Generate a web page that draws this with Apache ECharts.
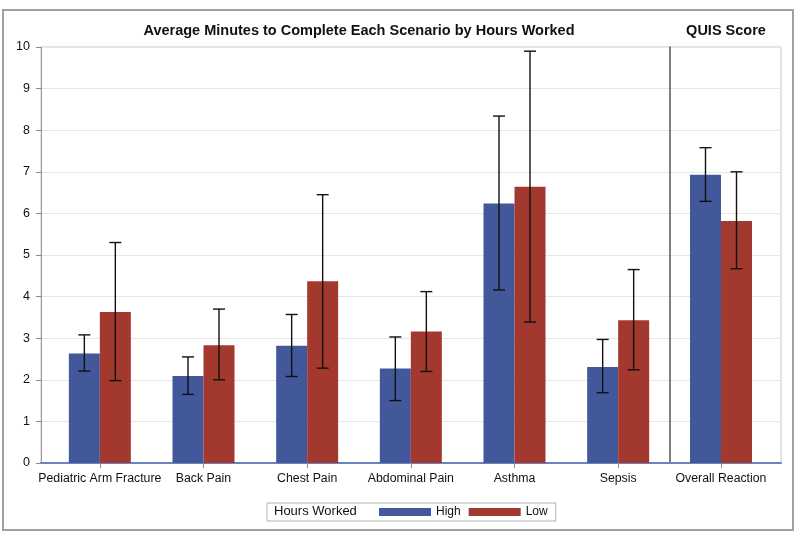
<!DOCTYPE html>
<html>
<head>
<meta charset="utf-8">
<script src="https://cdn.jsdelivr.net/npm/echarts@6/dist/echarts.min.js"></script>
<style>html,body{margin:0;padding:0;background:#fff}#c{width:800px;height:537px}</style>
</head>
<body>
<div id="c"></div>
<script>
// ---- data ----
const categories = ['Pediatric Arm Fracture','Back Pain','Chest Pain','Abdominal Pain','Asthma','Sepsis'];
const highMean  = [2.63, 2.09, 2.82, 2.27, 6.24, 2.31];
const highLower = [2.21, 1.65, 2.08, 1.50, 4.16, 1.69];
const highUpper = [3.08, 2.55, 3.57, 3.03, 8.34, 2.97];
const lowMean   = [3.63, 2.83, 4.37, 3.16, 6.64, 3.43];
const lowLower  = [1.98, 2.00, 2.28, 2.20, 3.39, 2.24];
const lowUpper  = [5.30, 3.70, 6.45, 4.12, 9.90, 4.65];

const quisCategories = ['Overall Reaction'];
const quisHighMean  = [6.93];
const quisHighLower = [6.29];
const quisHighUpper = [7.58];
const quisLowMean   = [5.82];
const quisLowLower  = [4.67];
const quisLowUpper  = [7.00];

const yTicks = [0,1,2,3,4,5,6,7,8,9,10];

const BLUE = '#43589a';
const RED = '#a3392e';
const BAR_W = 31;
const FONT = '"Liberation Sans", Arial, sans-serif';

function errData(lower, upper){ return lower.map((l,i)=>[i,l,upper[i]]); }
function errSeries(name, lower, upper, axisIdx, side){
  return {
    type:'custom', name: name, xAxisIndex: axisIdx, yAxisIndex: axisIdx, z: 5,
    data: errData(lower, upper),
    encode:{x:0, y:[1,2]},
    renderItem: function(params, api){
      const c = api.value(0);
      const lo = api.coord([c, api.value(1)]);
      const hi = api.coord([c, api.value(2)]);
      const x = lo[0] + side * BAR_W/2;
      const cap = 6;
      const st = {stroke:'#111', lineWidth:1.4};
      return {type:'group', children:[
        {type:'line', shape:{x1:x, y1:hi[1], x2:x, y2:lo[1]}, style:st},
        {type:'line', shape:{x1:x-cap, y1:hi[1], x2:x+cap, y2:hi[1]}, style:st},
        {type:'line', shape:{x1:x-cap, y1:lo[1], x2:x+cap, y2:lo[1]}, style:st}
      ]};
    },
    silent:true
  };
}

const chart = echarts.init(document.getElementById('c'), null, {renderer:'canvas'});
const hiddenY = {type:'value', min:0, max:10, interval:1, show:false};
const catX = (data, idx) => ({
  type:'category', gridIndex: idx, data: data,
  axisLine:{show:false},
  axisTick:{show:true, alignWithLabel:true, length:5, lineStyle:{color:'#888'}},
  axisLabel:{color:'#111', fontSize:12.3, fontFamily:FONT, margin:10, interval:0}
});

chart.setOption({
  animation:false,
  backgroundColor:'#fff',
  textStyle:{fontFamily:FONT},
  title:[
    {text:'Average Minutes to Complete Each Scenario by Hours Worked', left:354, top:18, textAlign:'center',
      textStyle:{fontSize:14.5, fontWeight:'bold', color:'#111', fontFamily:FONT}},
    {text:'QUIS Score', left:721, top:18, textAlign:'center',
      textStyle:{fontSize:14.5, fontWeight:'bold', color:'#111', fontFamily:FONT}}
  ],
  legend:{
    data:['High','Low'], left:267, top:503, icon:'rect', itemWidth:52, itemHeight:8, itemGap:8,
    padding:[3,8,3,112], borderColor:'#b0b0b0', borderWidth:1,
    textStyle:{fontSize:12, color:'#111', fontFamily:FONT}, selectedMode:false
  },
  graphic:[
    {type:'rect', shape:{x:3, y:10, width:790, height:520}, style:{fill:'none', stroke:'#a0a0a0', lineWidth:2}, silent:true, z:-1},
    {type:'text', left:274, top:505, style:{text:'Hours Worked', fontSize:13, fill:'#111', fontFamily:FONT}, silent:true}
  ],
  grid:[
    {left:48, right:130, top:47, bottom:74},
    {left:670, right:28, top:47, bottom:74},
    {left:41, right:19, top:47, bottom:74, show:true, borderColor:'#c8c8c8', borderWidth:1, backgroundColor:'transparent'}
  ],
  xAxis:[
    catX(categories, 0),
    catX(quisCategories, 1),
    {type:'value', gridIndex:2, min:0, max:1, axisLabel:{show:false}, axisTick:{show:false}, splitLine:{show:false},
      axisLine:{show:true, lineStyle:{color:'#6b84c0', width:2}}}
  ],
  yAxis:[
    Object.assign({gridIndex:0}, hiddenY),
    {type:'value', gridIndex:1, min:0, max:10, interval:1, axisLabel:{show:false}, axisTick:{show:false}, splitLine:{show:false},
      axisLine:{show:true, lineStyle:{color:'#555', width:1.5}}},
    {type:'value', gridIndex:2, min:0, max:10, interval:1,
      axisLine:{show:true, lineStyle:{color:'#999'}},
      axisTick:{show:true, length:5, lineStyle:{color:'#888'}},
      axisLabel:{color:'#111', fontSize:12.5, fontFamily:FONT, margin:11, formatter:(v)=> yTicks.includes(v)? String(v):''},
      splitLine:{show:true, lineStyle:{color:'#e6e6e6'}}}
  ],
  series:[
    {name:'High', type:'bar', xAxisIndex:0, yAxisIndex:0, data:highMean, barWidth:BAR_W, barGap:'0%', itemStyle:{color:BLUE}},
    {name:'Low', type:'bar', xAxisIndex:0, yAxisIndex:0, data:lowMean, barWidth:BAR_W, barGap:'0%', itemStyle:{color:RED}},
    {name:'High', type:'bar', xAxisIndex:1, yAxisIndex:1, data:quisHighMean, barWidth:BAR_W, barGap:'0%', itemStyle:{color:BLUE}},
    {name:'Low', type:'bar', xAxisIndex:1, yAxisIndex:1, data:quisLowMean, barWidth:BAR_W, barGap:'0%', itemStyle:{color:RED}},
    errSeries('errHigh', highLower, highUpper, 0, -1),
    errSeries('errLow', lowLower, lowUpper, 0, 1),
    errSeries('errQHigh', quisHighLower, quisHighUpper, 1, -1),
    errSeries('errQLow', quisLowLower, quisLowUpper, 1, 1)
  ]
});
</script>
</body>
</html>
